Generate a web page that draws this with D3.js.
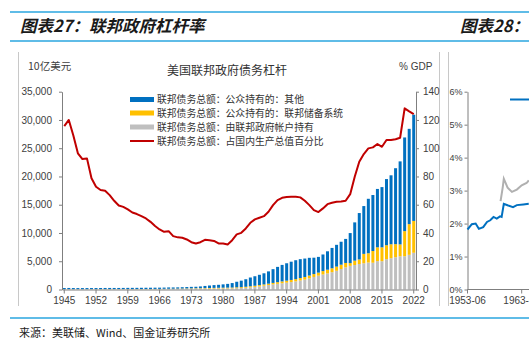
<!DOCTYPE html>
<html><head><meta charset="utf-8">
<script src="https://cdn.jsdelivr.net/npm/d3@7"></script>
<style>
html,body{margin:0;padding:0;background:#fff;}
svg{display:block;}
</style></head>
<body>
<svg id="c" width="529" height="340"></svg>
<script>
// ---------- DATA ----------
const years = d3.range(1945, 2023);
// 联邦债务总额 (10亿美元)
const totalDebt = [260,271,257,252,253,257,255,259,266,271,274,273,272,280,288,291,293,303,310,316,322,329,340,369,366,381,408,436,466,484,542,629,706,777,830,909,995,1137,1372,1565,1817,2121,2346,2601,2868,3206,3598,4002,4351,4643,4921,5182,5369,5478,5606,5629,5770,6198,6760,7355,7905,8451,8951,9986,11876,13529,14764,16051,16719,17794,18120,19540,20206,21462,22670,26903,28429,30929];
// 由联邦政府帐户持有
const heldByGov = [25,29,33,35,38,38,41,44,48,46,47,50,53,53,53,54,54,55,56,59,62,65,74,79,88,98,105,114,125,140,147,152,157,170,189,197,205,213,234,258,310,380,456,550,677,795,909,1002,1103,1210,1316,1447,1597,1757,1973,2219,2450,2658,2847,3059,3313,3622,3916,4183,4331,4510,4636,4770,4738,5015,5003,5372,5540,5713,5869,5885,6134,6500];
// 公众持有的：联邦储备系统
const heldByFed = [22,23,22,21,19,18,23,23,25,25,24,24,23,25,26,27,27,30,32,35,39,42,47,52,54,58,66,71,76,81,85,95,105,115,116,121,124,134,156,155,170,191,212,229,220,235,259,296,326,355,374,391,425,458,497,511,534,604,656,700,737,769,780,491,769,811,1665,1645,2072,2451,2462,2463,2465,2313,2113,4445,5432,5635];
// 公众持有的：其他
const heldByOther = totalDebt.map((t, i) => t - heldByGov[i] - heldByFed[i]);
// 联邦债务总额：占国内生产总值百分比 (% GDP)
const debtToGDP = [115.7,120,109,96.4,92.3,92.8,78.7,72.7,70.4,69.9,66.8,62.8,59.5,58.5,56.7,54.5,53.4,51.9,50.3,47.9,44.9,42.5,40.8,41.3,37.8,36.9,36.6,35.4,33.5,32.6,33.5,35.2,34.9,34.4,32.6,32.6,31.9,34.9,39.0,40.1,43.2,47.2,49.6,50.8,51.9,55.0,59.7,63.3,64.9,65.4,65.6,65.6,65.2,62.8,59.7,56.2,54.8,57.4,60.4,61.4,62.1,62.3,62.8,67.5,79.8,90.4,95.9,99.9,100.6,103.0,101.0,105.8,105.8,106.3,107.4,128.2,126.1,124.2];

const seriesNames = ["联邦债务总额：公众持有的：其他","联邦债务总额：公众持有的：联邦储备系统","联邦债务总额：由联邦政府帐户持有","联邦债务总额：占国内生产总值百分比"];
const leftTicks = [0,5000,10000,15000,20000,25000,30000,35000];
const rightTicks = [0,20,40,60,80,100,120,140];
const xTickYears = d3.range(1945, 2023, 7);

// neighbouring chart (图表28, partially visible)
const nbYears = [1953.5,1954.3,1955.0,1955.6,1956.4,1957.1,1957.7,1958.3,1958.9,1959.5,1959.8,1960.2,1961.0,1961.9,1962.6,1963.8,1964.8];
const nbBlue  = [1.82,1.98,2.0,1.84,1.89,2.05,2.10,2.2,2.15,2.22,2.2,2.6,2.55,2.5,2.56,2.58,2.6];
const nbGrayYears = [1959.6,1960.0,1960.2,1960.9,1961.7,1962.6,1963.5,1964.4,1964.8];
const nbGray  = [2.68,3.1,3.36,3.09,2.96,3.03,3.16,3.23,3.31];
const nbTicks = [0,1,2,3,4,5,6];
const nbXTicks = [[1953.5,"1953-06"],[1963.5,"1963-06"]];

// ---------- DRAW ----------
const svg = d3.select("#c");
const CJK = "'Noto Sans CJK SC','Noto Sans',sans-serif";
const LAT = "'Liberation Sans',Arial,sans-serif";
const frameBlue = "#2aa6df";
const axisGray = "#7f7f7f";
const txt = "#404040";

svg.append("rect").attr("width",529).attr("height",340).attr("fill","#fff");

// header lines
svg.append("line").attr("x1",10).attr("x2",529).attr("y1",12).attr("y2",12).attr("stroke",frameBlue).attr("stroke-width",1.5);
svg.append("line").attr("x1",10).attr("x2",529).attr("y1",41).attr("y2",41).attr("stroke",frameBlue).attr("stroke-width",1.5);
svg.append("line").attr("x1",10).attr("x2",529).attr("y1",318).attr("y2",318).attr("stroke",frameBlue).attr("stroke-width",1.5);

svg.append("text").attr("x",20).attr("y",32).text("图表27：联邦政府杠杆率")
  .attr("font-family",CJK).attr("font-size",16.5).attr("font-weight","bold").attr("font-style","italic").attr("fill","#1a1a1a");
svg.append("text").attr("x",460).attr("y",32).text("图表28：")
  .attr("font-family",CJK).attr("font-size",16.5).attr("font-weight","bold").attr("font-style","italic").attr("fill","#1a1a1a");

svg.append("text").attr("x",19).attr("y",337).text("来源：美联储、Wind、国金证券研究所")
  .attr("font-family",CJK).attr("font-size",11).attr("fill","#1a1a1a");

// panel separators
[18.5, 439.5, 448.5].forEach(x => svg.append("line").attr("x1",x).attr("x2",x).attr("y1",52).attr("y2",306).attr("stroke","#c8c8c8").attr("stroke-width",1));

// scales
const x = d3.scaleBand().domain(years).range([62,416]).paddingInner(0.34).paddingOuter(0.17);
const yL = d3.scaleLinear().domain([0,35000]).range([289.5,91.7]);
const yR = d3.scaleLinear().domain([0,140]).range([289.5,91.7]);

// title & units
svg.append("text").attr("x",227).attr("y",75).attr("text-anchor","middle").text("美国联邦政府债务杠杆")
  .attr("font-family",CJK).attr("font-size",12).attr("fill","#333");
svg.append("text").attr("x",28).attr("y",70).text("10亿美元")
  .attr("font-family",CJK).attr("font-size",10.5).attr("fill",txt);
svg.append("text").attr("x",399).attr("y",70).text("% GDP")
  .attr("font-family",LAT).attr("font-size",10).attr("fill",txt);

// stacked bars
const stackData = years.map((yr,i)=>({year:yr, gov:heldByGov[i], fed:heldByFed[i], other:heldByOther[i]}));
const stack = d3.stack().keys(["gov","fed","other"])(stackData);
const colors = {gov:"#bfbfbf", fed:"#ffc000", other:"#0070c0"};
svg.append("g").selectAll("g").data(stack).join("g")
  .attr("fill", d => colors[d.key])
  .selectAll("rect").data(d => d).join("rect")
  .attr("x", d => x(d.data.year))
  .attr("width", x.bandwidth())
  .attr("y", d => yL(d[1]))
  .attr("height", d => Math.max(0, yL(d[0]) - yL(d[1])));

// red line
const line = d3.line().x((d,i)=>x(years[i])+x.bandwidth()/2).y(d=>yR(d)).curve(d3.curveLinear);
svg.append("path").datum(debtToGDP).attr("d",line).attr("fill","none").attr("stroke","#c00000").attr("stroke-width",2).attr("stroke-linejoin","round");

// axes
function styleAxis(g){
  g.selectAll("path,line").attr("stroke",axisGray);
  g.selectAll("text").attr("fill",txt).attr("font-family",LAT).attr("font-size",10);
}
svg.append("g").attr("transform","translate(62,0)")
  .call(d3.axisLeft(yL).tickValues(leftTicks).tickFormat(d3.format(",")).tickSize(3).tickSizeOuter(0).tickPadding(7))
  .call(styleAxis);
svg.append("g").attr("transform","translate(416,0)")
  .call(d3.axisRight(yR).tickValues(rightTicks).tickSize(3).tickSizeOuter(0).tickPadding(4))
  .call(styleAxis);
svg.append("g").attr("transform","translate(0,289.5)")
  .call(d3.axisBottom(x).tickValues(xTickYears).tickSize(4).tickSizeOuter(0).tickPadding(3))
  .call(styleAxis);

// legend
const lg = svg.append("g").attr("transform","translate(130,0)");
const legendY = [99.5,113,127,141];
const legendCol = ["#0070c0","#ffc000","#bfbfbf","#c00000"];
seriesNames.forEach((name,i)=>{
  if(i<3){
    lg.append("rect").attr("x",0).attr("y",legendY[i]-2.5).attr("width",24).attr("height",5).attr("fill",legendCol[i]);
  } else {
    lg.append("line").attr("x1",0).attr("x2",24).attr("y1",legendY[i]).attr("y2",legendY[i]).attr("stroke",legendCol[i]).attr("stroke-width",2);
  }
  lg.append("text").attr("x",27).attr("y",legendY[i]).attr("dy","0.36em").text(name)
    .attr("font-family",CJK).attr("font-size",9.8).attr("fill","#333");
});

// ---------- neighbouring chart (cropped, as in the reference) ----------
const nx = d3.scaleLinear().domain([1953.5,1963.5]).range([467.5,521.7]);
const ny = d3.scaleLinear().domain([0,6]).range([289.5,91.7]);
const nb = svg.append("g");
nb.append("g").attr("transform","translate(467.5,0)")
  .call(d3.axisLeft(ny).tickValues(nbTicks).tickFormat(d=>d+"%").tickSize(3).tickSizeOuter(0).tickPadding(2))
  .call(styleAxis);
nb.selectAll("text").attr("font-size",9);
nb.append("line").attr("x1",467.5).attr("x2",529).attr("y1",289.5).attr("y2",289.5).attr("stroke",axisGray);
nbXTicks.forEach(([v,l])=>{
  nb.append("line").attr("x1",nx(v)).attr("x2",nx(v)).attr("y1",289.5).attr("y2",293.5).attr("stroke",axisGray);
  nb.append("text").attr("x",nx(v)).attr("y",304).attr("text-anchor","middle").text(l)
    .attr("font-family",LAT).attr("font-size",10).attr("fill",txt);
});
const nLine = d3.line().x(d=>nx(d[0])).y(d=>ny(d[1]));
nb.append("path").datum(nbGrayYears.map((yv,i)=>[yv,nbGray[i]])).attr("d",nLine).attr("fill","none").attr("stroke","#b0b0b0").attr("stroke-width",2);
nb.append("path").datum(nbYears.map((yv,i)=>[yv,nbBlue[i]])).attr("d",nLine).attr("fill","none").attr("stroke","#0070c0").attr("stroke-width",2);
nb.append("line").attr("x1",510).attr("x2",529).attr("y1",99.5).attr("y2",99.5).attr("stroke","#0070c0").attr("stroke-width",2);
</script>
</body></html>
